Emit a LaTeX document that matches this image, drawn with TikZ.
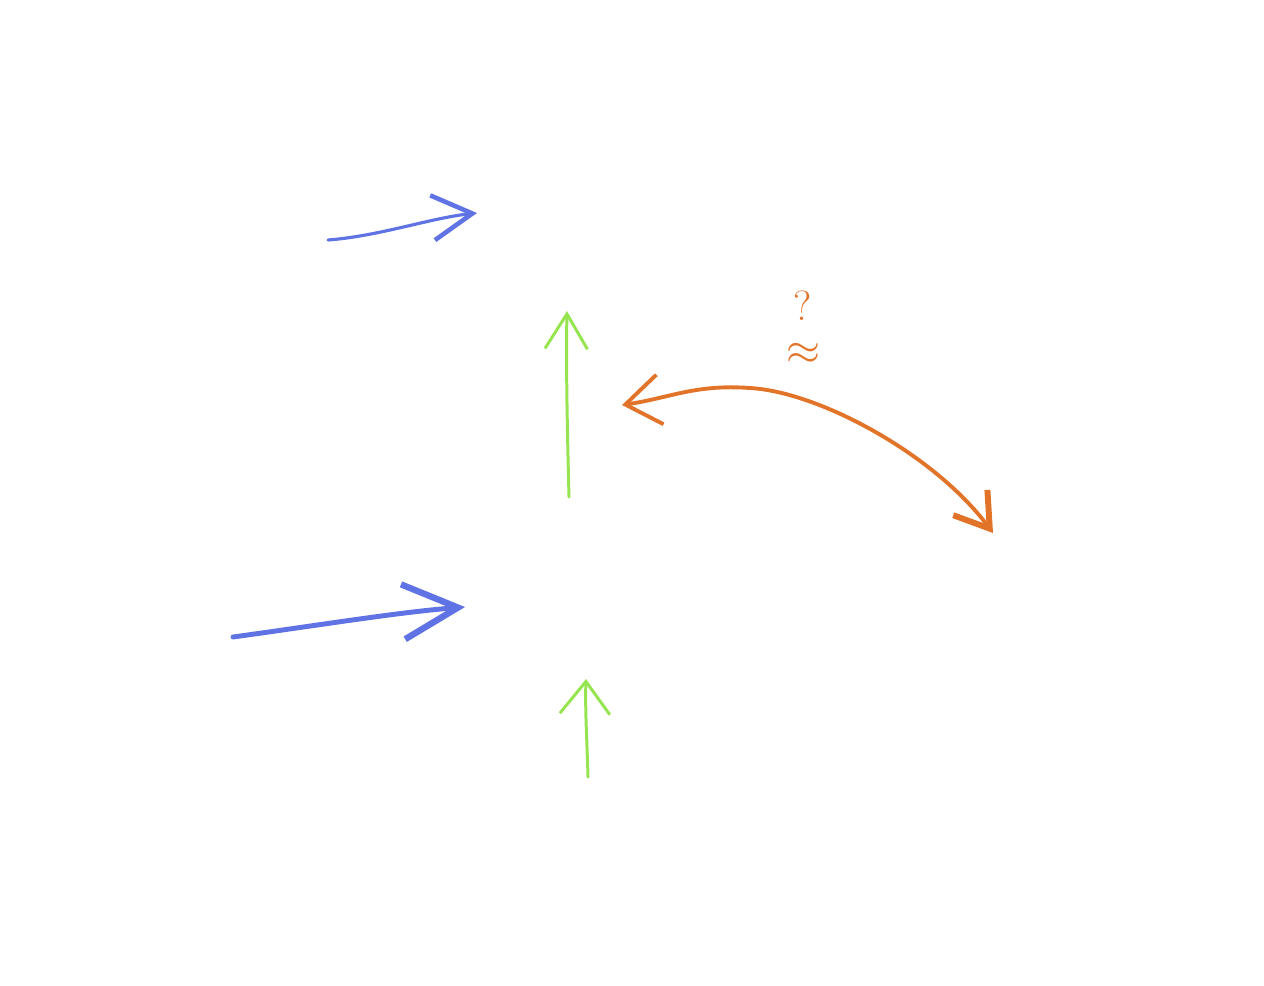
\documentclass[tikz,border=0pt]{standalone}
\usetikzlibrary{arrows.meta}
\definecolor{sketchblue}{RGB}{96,115,228}
\definecolor{sketchgreen}{RGB}{150,228,80}
\definecolor{sketchorange}{RGB}{226,116,42}
\begin{document}
\begin{tikzpicture}[x=0.02cm,y=-0.02cm,
    bluearrow/.style={sketchblue,line cap=round,line join=round},
    greenarrow/.style={sketchgreen,line width=1.7pt,line cap=round,line join=round},
    orangearrow/.style={sketchorange,line width=2.2pt,line cap=round,line join=round},
    marktext/.style={sketchorange,inner sep=0pt,font=\fontsize{24}{24}\selectfont}]
    \useasboundingbox (0,0) rectangle (1264,985);
    % blue arrows
    \coordinate (b1s) at (328,240);
    \coordinate (b1e) at (477,213);
    \draw[bluearrow,line width=1.8pt,-{Straight Barb[length=8mm,width=9mm,line width=2.6pt]}]
        (b1s) .. controls (380,236) and (430,218) .. (b1e);
    \coordinate (b2s) at (233,637);
    \coordinate (b2e) at (465,607);
    \draw[bluearrow,line width=2.8pt,-{Straight Barb[length=11mm,width=11mm,line width=3.6pt]}]
        (b2s) .. controls (320,625) and (400,612) .. (b2e);
    % green arrows
    \coordinate (g1s) at (569,497);
    \coordinate (g1e) at (567,311);
    \draw[greenarrow,-{Straight Barb[length=7mm,width=8.5mm]}]
        (g1s) .. controls (567,420) and (566,360) .. (g1e);
    \coordinate (g2s) at (588,777);
    \coordinate (g2e) at (586,679);
    \draw[greenarrow,-{Straight Barb[length=6.5mm,width=10mm]}]
        (g2s) .. controls (587,740) and (585,710) .. (g2e);
    % orange arrow
    \coordinate (os) at (622,405);
    \coordinate (om) at (750,388);
    \coordinate (oe) at (993,533);
    \draw[orangearrow,{Straight Barb[length=7mm,width=10mm]}-{Straight Barb[length=6.5mm,width=8.5mm,line width=3.4pt]}]
        (os) .. controls (670,398) and (695,384) .. (om)
        .. controls (820,392) and (935,455) .. (oe);
    \node[marktext] (qmark) at (803,306) {?};
    \node[marktext] (approx) at (803,354) {$\approx$};
\end{tikzpicture}
\end{document}
